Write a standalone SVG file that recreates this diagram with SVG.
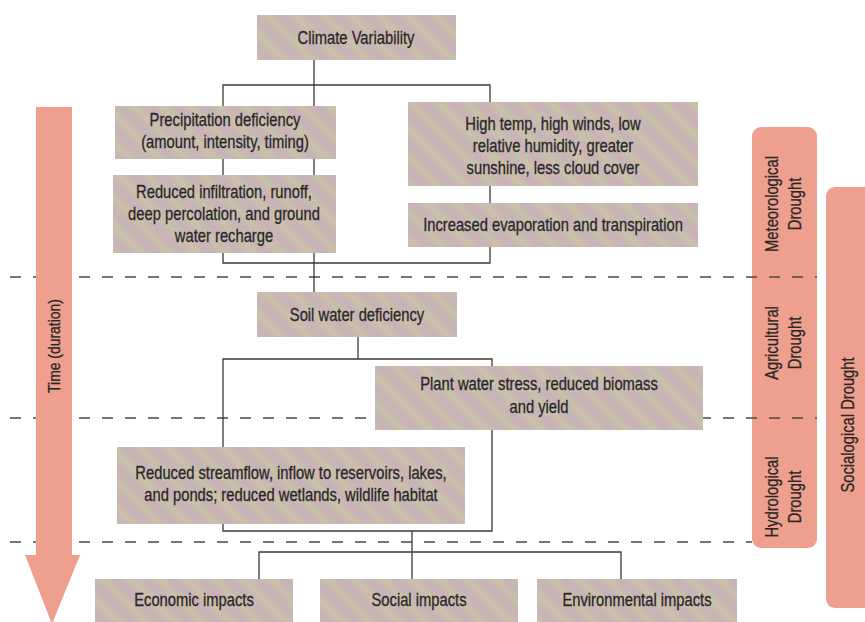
<svg xmlns="http://www.w3.org/2000/svg" width="865" height="622" viewBox="0 0 865 622">
<defs>
<linearGradient id="tex" gradientUnits="userSpaceOnUse" x1="0" y1="0" x2="7" y2="-7" spreadMethod="reflect">
<stop offset="0" stop-color="#c9c1a9"/>
<stop offset="1" stop-color="#c8b2b8"/>
</linearGradient>
<style>
.box{fill:url(#tex);}
.t{font-family:"Liberation Sans",Arial,sans-serif;font-size:18px;fill:#2a2826;stroke:#2a2826;stroke-width:0.3;text-anchor:middle;}
.conn{fill:none;stroke:#3d3a33;stroke-width:1.3;}
.dash{fill:none;stroke:#4a4a40;stroke-width:1.6;stroke-dasharray:11 12;}
.pink{fill:#ef9f8e;}
</style>
</defs>
<rect width="865" height="622" fill="#ffffff"/>

<g id="dashes-low">
<path class="dash" d="M10,542 H752"/>
</g>

<g id="meteorological-agricultural-hydrological">
<rect class="pink" x="752" y="127" width="65" height="421" rx="9"/>
<text class="t" transform="translate(778,204) rotate(-90) scale(0.82,1)">Meteorological</text>
<text class="t" transform="translate(801,204) rotate(-90) scale(0.82,1)">Drought</text>
<text class="t" transform="translate(778,343) rotate(-90) scale(0.82,1)">Agricultural</text>
<text class="t" transform="translate(801,343) rotate(-90) scale(0.82,1)">Drought</text>
<text class="t" transform="translate(778,497) rotate(-90) scale(0.82,1)">Hydrological</text>
<text class="t" transform="translate(801,497) rotate(-90) scale(0.82,1)">Drought</text>
</g>
<g id="socialogical">
<rect class="pink" x="826" y="187" width="60" height="421" rx="9"/>
<text class="t" transform="translate(854,425) rotate(-90) scale(0.82,1)">Socialogical Drought</text>
</g>

<g id="dashes">
<path class="dash" d="M10,277 H817"/>
<path class="dash" d="M10,418 H817"/>
</g>

<g id="connectors">
<path class="conn" d="M314,60 V292"/>
<path class="conn" d="M223,85 H490 V263 H223 Z"/>
<path class="conn" d="M358,337 V359"/>
<path class="conn" d="M223,359 H492 V531 H223 Z"/>
<path class="conn" d="M412,531 V579"/>
<path class="conn" d="M259,579 V552 H621 V579"/>
</g>

<g id="climate">
<rect class="box" x="257" y="15" width="199" height="45"/>
<text class="t" transform="translate(356,44) scale(0.82,1)">Climate Variability</text>
</g>
<g id="precip">
<rect class="box" x="115" y="106" width="221" height="53"/>
<text class="t" transform="translate(225,126) scale(0.82,1)">Precipitation deficiency</text>
<text class="t" transform="translate(225,148) scale(0.82,1)">(amount, intensity, timing)</text>
</g>
<g id="infiltration">
<rect class="box" x="113" y="175" width="223" height="78"/>
<text class="t" transform="translate(224,198) scale(0.82,1)">Reduced infiltration, runoff,</text>
<text class="t" transform="translate(224,220) scale(0.82,1)">deep percolation, and ground</text>
<text class="t" transform="translate(224,242) scale(0.82,1)">water recharge</text>
</g>
<g id="hightemp">
<rect class="box" x="408" y="102" width="290" height="84"/>
<text class="t" transform="translate(553,130) scale(0.82,1)">High temp, high winds, low</text>
<text class="t" transform="translate(553,152) scale(0.82,1)">relative humidity, greater</text>
<text class="t" transform="translate(553,174) scale(0.82,1)">sunshine, less cloud cover</text>
</g>
<g id="evaporation">
<rect class="box" x="408" y="203" width="290" height="44"/>
<text class="t" transform="translate(553,231) scale(0.82,1)">Increased evaporation and transpiration</text>
</g>
<g id="soil">
<rect class="box" x="257" y="292" width="200" height="45"/>
<text class="t" transform="translate(357,321) scale(0.82,1)">Soil water deficiency</text>
</g>
<g id="plant">
<rect class="box" x="375" y="366" width="328" height="64"/>
<text class="t" transform="translate(539,390) scale(0.82,1)">Plant water stress, reduced biomass</text>
<text class="t" transform="translate(539,413) scale(0.82,1)">and yield</text>
</g>
<g id="streamflow">
<rect class="box" x="117" y="447" width="348" height="77"/>
<text class="t" transform="translate(291,479) scale(0.82,1)">Reduced streamflow, inflow to reservoirs, lakes,</text>
<text class="t" transform="translate(291,501) scale(0.82,1)">and ponds; reduced wetlands, wildlife habitat</text>
</g>
<g id="economic">
<rect class="box" x="95" y="579" width="198" height="50"/>
<text class="t" transform="translate(194,606) scale(0.82,1)">Economic impacts</text>
</g>
<g id="social">
<rect class="box" x="320" y="579" width="198" height="50"/>
<text class="t" transform="translate(419,606) scale(0.82,1)">Social impacts</text>
</g>
<g id="environmental">
<rect class="box" x="537" y="579" width="200" height="50"/>
<text class="t" transform="translate(637,606) scale(0.82,1)">Environmental impacts</text>
</g>

<g id="time-arrow">
<path class="pink" d="M36,107 H72 V555 H80 L52,624 L25,555 H36 Z"/>
<text class="t" style="font-size:17px" transform="translate(60,346) rotate(-90) scale(0.82,1)">Time (duration)</text>
</g>
</svg>
